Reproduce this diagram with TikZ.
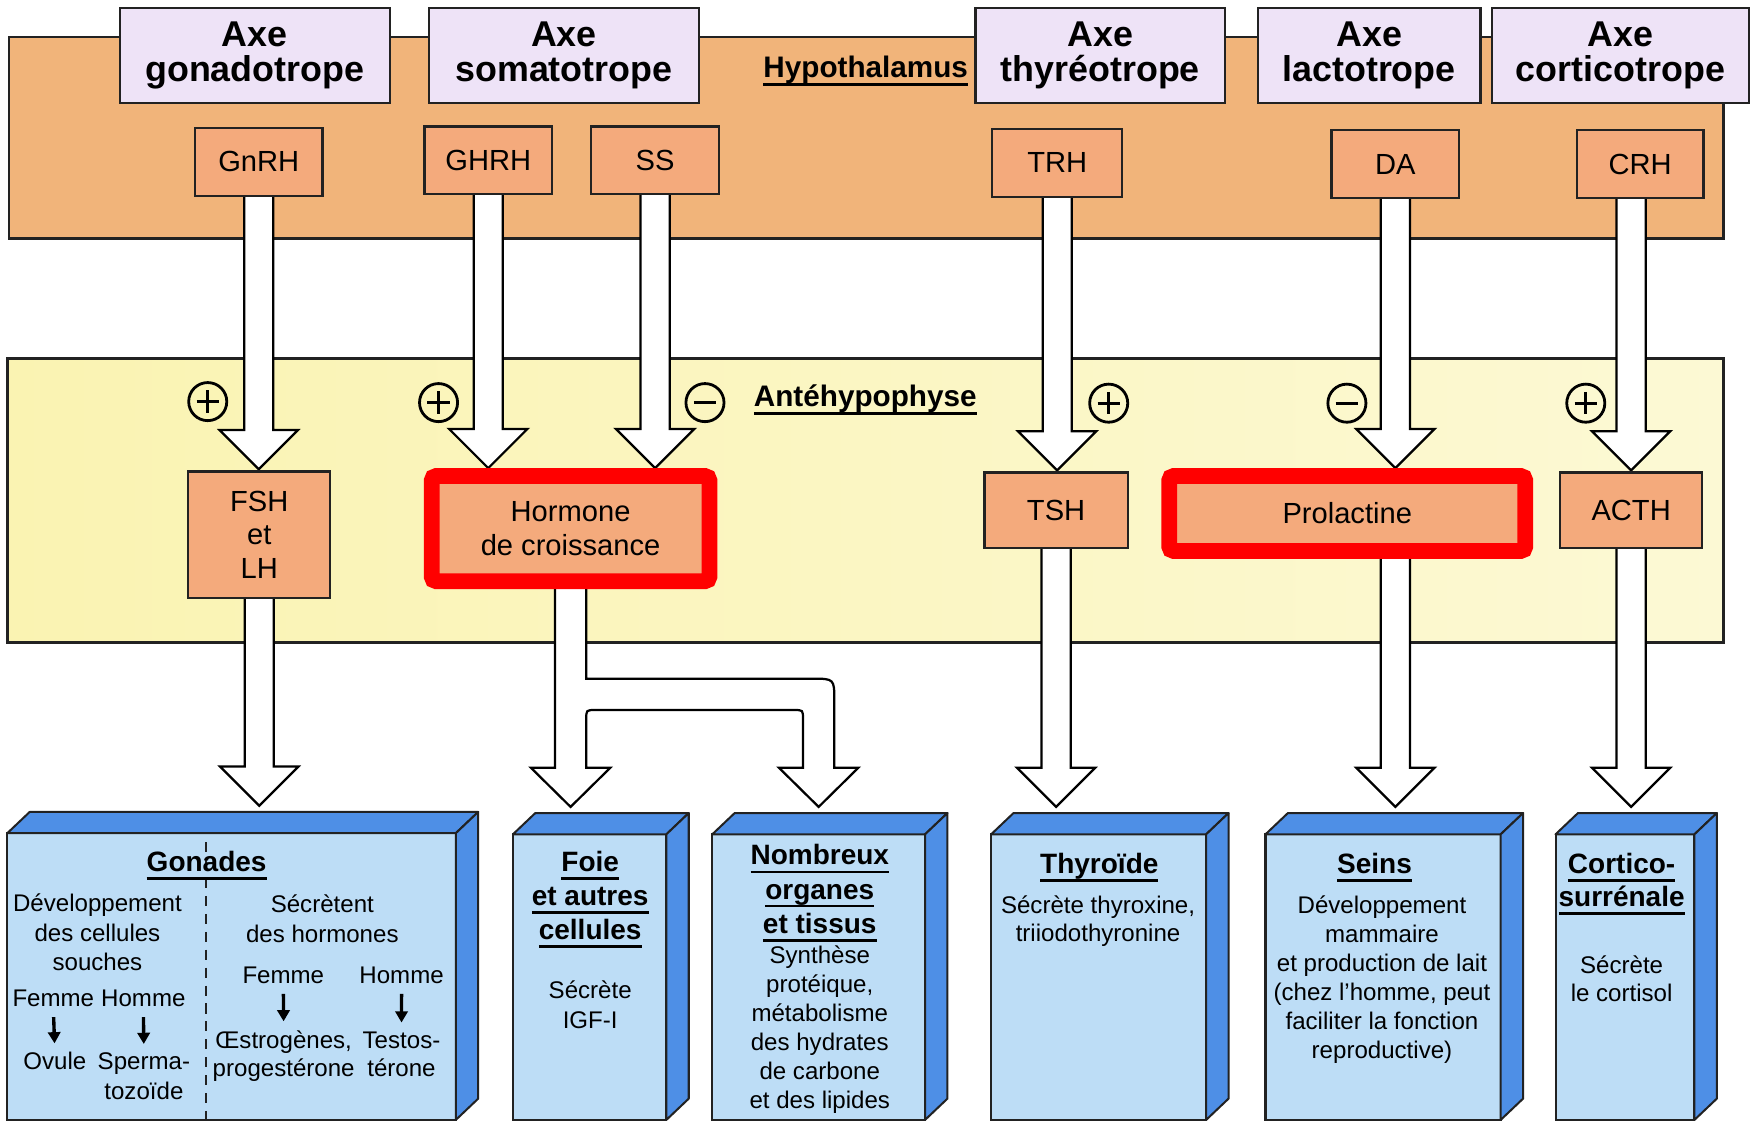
\documentclass[tikz,border=0pt]{standalone}
\usepackage{fontspec}
\setmainfont{Liberation Sans}
\usetikzlibrary{calc,arrows.meta}
\definecolor{bandO}{HTML}{F1B47A}
\definecolor{hormO}{HTML}{F4AA7C}
\definecolor{lav}{HTML}{EEE3F7}
\definecolor{yelA}{HTML}{FAF3B2}
\definecolor{yelB}{HTML}{FCF9D4}
\definecolor{bfront}{HTML}{BDDDF6}
\definecolor{bside}{HTML}{4E8FE6}
\definecolor{edge}{HTML}{222222}
\definecolor{redf}{HTML}{FF0000}
\newcommand\myul[1]{\leavevmode\setbox0=\hbox{#1}\rlap{\rule[-7.5pt]{\wd0}{2.5pt}}\box0}
\pgfdeclarelayer{bg}\pgfdeclarelayer{arr}\pgfsetlayers{bg,arr,main}
\newcommand\fatarrow[4]{%
  \coordinate (t-#2-#3) at ($(#1.center |- #3.north)+(0,-#4)$);
  \draw[myfat] ($(#1.center |- #2.center)+(-13,0)$) -- ($(t-#2-#3)+(-13,-35)$) -- ($(t-#2-#3)+(-35,-35)$) -- (t-#2-#3) -- ($(t-#2-#3)+(35,-35)$) -- ($(t-#2-#3)+(13,-35)$) -- ($(#1.center |- #2.center)+(13,0)$);}
\newcommand\txtlines[6]{\foreach \myline [count=\i] in {#6} {\node[#5,anchor=base] (#1-\i) at ({#2},{#3+(\i-1)*#4}) {\myline};}}
\newcommand\boxfaces[1]{%
  \draw[myface] (#1.north west) -- ++(20,-19) -- ($(#1.north east)+(20,-19)$) -- (#1.north east) -- cycle;
  \draw[myface] (#1.north east) -- ++(20,-19) -- ($(#1.south east)+(20,-19)$) -- (#1.south east) -- cycle;}
\begin{document}
\begin{tikzpicture}[x=1pt,y=-1pt,
  myaxe/.style={draw=edge,line width=2pt,fill=lav,inner sep=0pt,align=center,font=\bfseries\fontsize{32}{31}\selectfont,minimum height=85pt},
  myhorm/.style={draw=edge,line width=2pt,fill=hormO,inner sep=0pt,align=center,font=\fontsize{26}{30}\selectfont},
  myred/.style={draw=redf,line width=14pt,rounded corners=4pt,fill=hormO,inner sep=0pt,align=center,font=\fontsize{26}{31}\selectfont},
  myfat/.style={draw=black,fill=white,line width=2pt,line join=miter},
  mysign/.style={circle,draw=black,line width=2.5pt,minimum size=34pt,inner sep=0pt},
  myorgan/.style={draw=edge,line width=1.8pt,fill=bfront,inner sep=0pt,outer sep=0pt},
  myface/.style={draw=edge,line width=1.8pt,fill=bside,line join=round},
  myhd/.style={font=\bfseries\fontsize{25}{30}\selectfont,inner sep=0pt},
  mybd/.style={font=\fontsize{21.5}{26}\selectfont,inner sep=0pt},
  mylab/.style={font=\bfseries\fontsize{26.5}{30}\selectfont,inner sep=0pt},
  mysmall/.style={line width=3pt,-{Triangle[width=11pt,length=10pt]},shorten <=9pt,shorten >=8pt},
]
\useasboundingbox (0,0) rectangle (1568,1002);

% bands
\begin{pgfonlayer}{bg}
\fill[white] (0,0) rectangle (1568,1002);
\draw[fill=bandO,draw=edge,line width=2.5pt] (8,33) rectangle (1539,213);
\draw[left color=yelA,right color=yelB,draw=edge,line width=2.5pt] (7,320) rectangle (1539,574);
\end{pgfonlayer}

% axes
\node[myaxe,minimum width=241pt] (axg) at (227.5,49.5) {Axe\\gonadotrope};
\node[myaxe,minimum width=241pt] (axs) at (503.5,49.5) {Axe\\somatotrope};
\node[myaxe,minimum width=223pt] (axt) at (982.5,49.5) {Axe\\thyréotrope};
\node[myaxe,minimum width=199pt] (axl) at (1222.5,49.5) {Axe\\lactotrope};
\node[myaxe,minimum width=230pt] (axc) at (1447,49.5) {Axe\\corticotrope};
\node[mylab,anchor=base west] (hyplab) at (681.5,69) {\myul{Hypothalamus}};
\node[mylab,anchor=base west] (antlab) at (673,363) {\myul{Antéhypophyse}};

% hypothalamic hormones
\node[myhorm,minimum width=114pt,minimum height=61pt] (gnrh) at (231,144.5) {GnRH};
\node[myhorm,minimum width=114pt,minimum height=60pt] (ghrh) at (436,143) {GHRH};
\node[myhorm,minimum width=114pt,minimum height=60pt] (ss) at (585,143) {SS};
\node[myhorm,minimum width=116pt,minimum height=61pt] (trh) at (944,145.5) {TRH};
\node[myhorm,minimum width=114pt,minimum height=61pt] (da) at (1246,146.5) {DA};
\node[myhorm,minimum width=113pt,minimum height=61pt] (crh) at (1464.5,146.5) {CRH};

% pituitary hormones
\node[myhorm,minimum width=127pt,minimum height=113pt] (fsh) at (231.5,477.5) {FSH\\et\\LH};
\node[myred,minimum width=248pt,minimum height=94pt] (gh) at (509.5,472) {Hormone\\de croissance};
\node[myhorm,minimum width=128pt,minimum height=67pt] (tsh) at (943,455.5) {TSH};
\node[myred,minimum width=318pt,minimum height=67pt] (prol) at (1203,458.5) {Prolactine};
\node[myhorm,minimum width=127pt,minimum height=67pt] (acth) at (1456.5,455.5) {ACTH};

% signs
\node[mysign] (c1) at (185.5,358.6) {};
\node[mysign] (c2) at (391.6,359.5) {};
\node[mysign] (c3) at (629.5,359.5) {};
\node[mysign] (c4) at (990,360) {};
\node[mysign] (c5) at (1202.7,360) {};
\node[mysign] (c6) at (1416,360) {};
\foreach \c in {c1,c2,c3,c4,c5,c6} {\draw[line width=2.5pt] ($(\c.center)+(-10,0)$) -- ($(\c.center)+(10,0)$);}
\foreach \c in {c1,c2,c4,c6} {\draw[line width=2.5pt] ($(\c.center)+(0,-10)$) -- ($(\c.center)+(0,10)$);}

% target organs
\node[myorgan,minimum width=400.5pt,minimum height=256pt] (gon) at (206.75,872) {};
\node[myorgan,minimum width=137pt,minimum height=255pt] (foie) at (526.5,872.5) {};
\node[myorgan,minimum width=190pt,minimum height=255pt] (nomb) at (731,872.5) {};
\node[myorgan,minimum width=192pt,minimum height=255pt] (thyr) at (981,872.5) {};
\node[myorgan,minimum width=210pt,minimum height=255pt] (seins) at (1235,872.5) {};
\node[myorgan,minimum width=124pt,minimum height=255pt] (cort) at (1451,872.5) {};
\boxfaces{gon}\boxfaces{foie}\boxfaces{nomb}\boxfaces{thyr}\boxfaces{seins}\boxfaces{cort}

% gonades text
\draw[edge,line width=2pt,dash pattern=on 9pt off 7pt] (184,752) -- (184,1000);
\node[myhd,anchor=base] (gonH) at (184.5,778) {\myul{Gonades}};
\txtlines{gl}{87}{814}{26.3}{mybd}{Développement,des cellules,souches}
\node[mybd,anchor=base] (gf1) at (47.6,898.8) {Femme};
\node[mybd,anchor=base] (gh1) at (128,898.8) {Homme};
\node[mybd,anchor=base] (go1) at (49,955.4) {Ovule};
\txtlines{gs}{128.5}{955.4}{26.6}{mybd}{Sperma-,tozoïde}
\draw[mysmall] (gf1.south) -- (go1.north);
\draw[mysmall] (gh1.south) -- (gs-1.north);
\txtlines{gr}{287.8}{815}{26.7}{mybd}{Sécrètent,des hormones}
\node[mybd,anchor=base] (gf2) at (253,878) {Femme};
\node[mybd,anchor=base] (gh2) at (358.6,878) {Homme};
\txtlines{ge}{253.3}{936}{25.3}{mybd}{{Œstrogènes,},progestérone}
\txtlines{gt}{358.5}{936}{25.3}{mybd}{Testos-,térone}
\draw[mysmall] (gf2.south) -- (ge-1.north);
\draw[mysmall] (gh2.south) -- (gt-1.north);

% foie
\txtlines{fh}{527}{778.3}{30.2}{myhd}{\myul{Foie},\myul{et autres},\myul{cellules}}
\txtlines{fb}{527}{891.4}{26.8}{mybd}{Sécrète,IGF-I}
% nombreux
\txtlines{nh}{732}{772.3}{30.5}{myhd}{\myul{Nombreux},\myul{organes},\myul{et tissus}}
\txtlines{nb}{732}{860}{25.9}{mybd}{Synthèse,{protéique,},métabolisme,des hydrates,de carbone,et des lipides}
% thyroide
\node[myhd,anchor=base] (th) at (981.6,779.8) {\myul{Thyroïde}};
\txtlines{tb}{980.5}{815.5}{25.3}{mybd}{{Sécrète thyroxine,},triiodothyronine}
% seins
\node[myhd,anchor=base] (sh) at (1227.3,779.8) {\myul{Seins}};
\txtlines{sb}{1234}{815.5}{25.9}{mybd}{Développement,mammaire,et production de lait,{(chez l’homme, peut},faciliter la fonction,reproductive)}
% cortico
\txtlines{ch}{1448}{779.8}{29.7}{myhd}{\myul{Cortico-},\myul{surrénale}}
\txtlines{cb}{1448}{869}{25.4}{mybd}{Sécrète,le cortisol}

% arrows
\begin{pgfonlayer}{arr}
\fatarrow{gnrh}{gnrh}{fsh}{1}
\fatarrow{ghrh}{ghrh}{gh}{0}
\fatarrow{ss}{ss}{gh}{0}
\fatarrow{trh}{trh}{tsh}{1}
\fatarrow{da}{da}{prol}{0}
\fatarrow{acth}{crh}{acth}{1}
\fatarrow{fsh}{fsh}{gon}{24.5}
\fatarrow{tsh}{tsh}{thyr}{24.5}
\fatarrow{da}{prol}{seins}{24.5}
\fatarrow{acth}{acth}{cort}{24.5}
\coordinate (tipF) at ($(gh.center |- foie.north)+(0,-24.5)$);
\coordinate (tipN) at ($(nomb.north)+(0,-24.5)$);
\draw[myfat] ($(gh.center)+(-14,0)$) -- ($(tipF)+(-14,-35)$) -- ($(tipF)+(-35.5,-35)$) -- (tipF) -- ($(tipF)+(35.5,-35)$) -- ($(tipF)+(14,-35)$) -- ($(tipF)+(14,-78.5)$) .. controls ($(tipF)+(14,-86.5)$) .. ($(tipF)+(22,-86.5)$) -- ($(tipN)+(-22,-86.5)$) .. controls ($(tipN)+(-14,-86.5)$) .. ($(tipN)+(-14,-78.5)$) -- ($(tipN)+(-14,-35)$) -- ($(tipN)+(-35.5,-35)$) -- (tipN) -- ($(tipN)+(35.5,-35)$) -- ($(tipN)+(14,-35)$) -- ($(tipN)+(14,-94.5)$) .. controls ($(tipN)+(14,-114.5)$) .. ($(tipN)+(-6,-114.5)$) -- ($(gh.center |- tipN)+(14,-114.5)$) -- ($(gh.center)+(14,0)$);
\end{pgfonlayer}
\end{tikzpicture}
\end{document}
